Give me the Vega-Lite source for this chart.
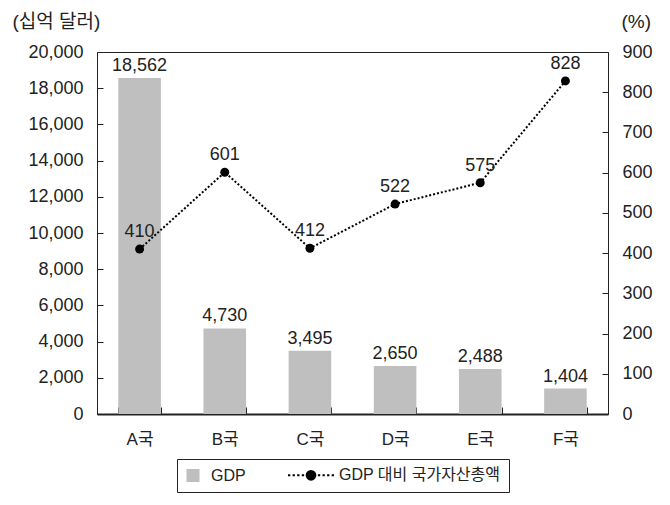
{
  "$schema": "https://vega.github.io/schema/vega-lite/v6.json",
  "autosize": {"type": "none"},
  "width": 511,
  "height": 362,
  "padding": {"left": 97, "top": 52, "right": 62, "bottom": 91},
  "background": "white",
  "config": {
    "font": "Liberation Sans, Noto Sans CJK KR",
    "view": {"stroke": "#222", "strokeWidth": 1},
    "axis": {"grid": false, "zindex": 1, "ticks": true, "labelOverlap": false, "labelFont": "Liberation Sans, Noto Sans CJK KR", "labelFontSize": 18, "labelColor": "#222", "titleFont": "Liberation Sans, Noto Sans CJK KR", "titleFontSize": 19, "titleFontWeight": "normal", "titleColor": "#222", "tickColor": "#222", "tickWidth": 1, "domainColor": "#222"}
  },
  "data": {
    "values": [
      {"country": "A국", "gdp": 18562, "ratio": 410},
      {"country": "B국", "gdp": 4730, "ratio": 601},
      {"country": "C국", "gdp": 3495, "ratio": 412},
      {"country": "D국", "gdp": 2650, "ratio": 522},
      {"country": "E국", "gdp": 2488, "ratio": 575},
      {"country": "F국", "gdp": 1404, "ratio": 828}
    ]
  },
  "encoding": {
    "x": {
      "field": "country", "type": "nominal", "sort": null,
      "scale": {"paddingInner": 0.5, "paddingOuter": 0.25},
      "axis": {"title": null, "labelAngle": 0, "labelBaseline": "top", "tickBand": "extent", "tickSize": -7, "labelPadding": 24, "domainWidth": 2, "labelFontSize": 17}
    }
  },
  "layer": [
    {
      "encoding": {
        "y": {"field": "gdp", "type": "quantitative",
          "scale": {"domain": [0, 20000]},
          "axis": {"title": "(십억 달러)", "titleAngle": 0, "titleAlign": "left", "titleBaseline": "middle", "titleX": -91, "titleY": -31, "values": [0,2000,4000,6000,8000,10000,12000,14000,16000,18000,20000], "format": ",.0f", "offset": -6, "tickSize": 6, "labelPadding": 14, "domain": false}}
      },
      "layer": [
        {
          "mark": {"type": "bar", "color": "#bfbfbf"},
          "encoding": {
            "color": {"datum": "GDP", "type": "nominal",
              "scale": {"domain": ["GDP", "GDP 대비 국가자산총액"], "range": ["#bfbfbf", "#000000"]},
              "legend": {
                "title": null, "orient": "none", "legendX": 80, "legendY": 407, "direction": "horizontal",
                "strokeColor": "#222", "padding": 8, "labelFont": "Liberation Sans, Noto Sans CJK KR", "labelFontSize": 16, "labelLimit": 400, "labelColor": "#222", "columnPadding": 38, "labelOffset": 10,
                "symbolSize": 169,
                "encode": {
                  "symbols": {
                    "update": {
                      "shape": {"signal": "datum.value === 'GDP' ? 'square' : 'M-1,0L-0.9,0M-0.8,0L-0.7,0M-0.6,0L-0.5,0M-0.4,0L-0.3,0M0.3,0L0.4,0M0.5,0L0.6,0M0.7,0L0.8,0M0.9,0L1,0M0.19,0A0.19,0.19 0 1,1 -0.19,0A0.19,0.19 0 1,1 0.19,0Z'"},
                      "size": {"signal": "datum.value === 'GDP' ? 169 : 2116"},
                      "fill": {"signal": "datum.value === 'GDP' ? '#bfbfbf' : '#000000'"},
                      "stroke": {"signal": "datum.value === 'GDP' ? '#bfbfbf' : '#000000'"},
                      "strokeWidth": {"signal": "datum.value === 'GDP' ? 0 : 2"},
                      "opacity": {"value": 1}
                    }
                  },
                  "labels": {
                    "update": {
                      "dx": {"signal": "datum.value === 'GDP' ? 0 : 10"}
                    }
                  }
                }
              }
            }
          }
        },
        {
          "mark": {"type": "text", "baseline": "bottom", "dy": -3, "fontSize": 18, "font": "Liberation Sans", "color": "#222"},
          "encoding": {
            "text": {"field": "gdp", "type": "quantitative", "format": ","}
          }
        }
      ]
    },
    {
      "encoding": {
        "y": {"field": "ratio", "type": "quantitative",
          "scale": {"domain": [0, 900]},
          "axis": {"orient": "right", "title": "(%)", "titleAngle": 0, "titleAlign": "left", "titleBaseline": "middle", "titleX": 19, "titleY": -31, "values": [0,100,200,300,400,500,600,700,800,900], "format": "d", "offset": -6, "tickSize": 6, "labelPadding": 14, "domain": false}}
      },
      "layer": [
        {
          "mark": {"type": "line", "strokeDash": [2, 2], "strokeWidth": 2, "color": "#000"}
        },
        {
          "mark": {"type": "point", "filled": true, "size": 80, "color": "#000", "opacity": 1}
        },
        {
          "mark": {"type": "text", "baseline": "bottom", "dy": -8, "fontSize": 18, "font": "Liberation Sans", "color": "#222"},
          "encoding": {
            "text": {"field": "ratio", "type": "quantitative"}
          }
        }
      ]
    }
  ],
  "resolve": {"scale": {"y": "independent"}}
}
